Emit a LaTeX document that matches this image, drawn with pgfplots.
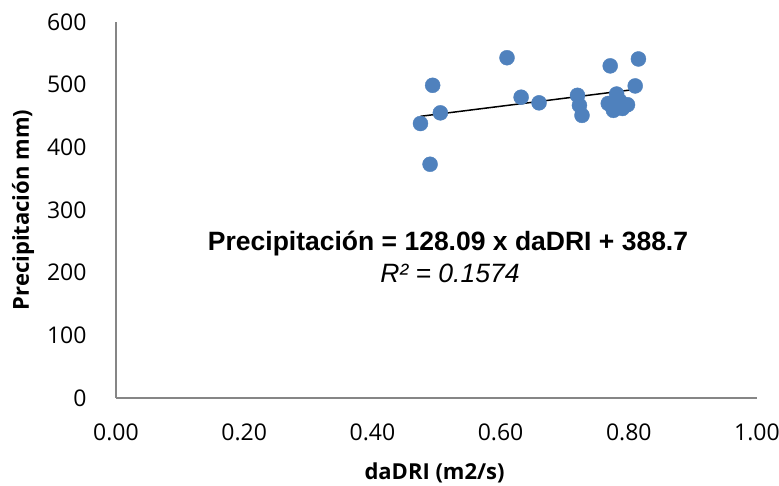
\documentclass[border=0pt]{standalone}
\usepackage{pgfplots}
\pgfplotsset{compat=1.18}
\usepackage{fontspec}
\setmainfont{Open Sans}
\newfontfamily\arialfont{Liberation Sans}
\definecolor{ptblue}{HTML}{4F81BD}
\definecolor{axgray}{HTML}{868686}
\begin{document}
\begin{tikzpicture}
\useasboundingbox (-116pt,-88pt) rectangle (663pt,398pt);
\begin{axis}[
  at={(0pt,0pt)}, anchor=south west,
  scale only axis, width=641pt, height=376pt,
  xmin=0, xmax=1, ymin=0, ymax=600,
  xtick={0,0.2,0.4,0.6,0.8,1}, ytick={0,100,200,300,400,500,600},
  axis lines=left,
  axis line style={-, draw=axgray, line width=1.3pt},
  major tick length=0pt,
  tick label style={font=\fontsize{23}{26}\selectfont, text=black},
  /pgf/number format/assume math mode=true,
  xticklabel style={/pgf/number format/.cd, fixed, fixed zerofill, precision=2, /tikz/.cd, yshift=-22pt},
  yticklabel style={/pgf/number format/.cd, fixed, /tikz/.cd, xshift=-26pt},
  xlabel={\bfseries daDRI (m2/s)},
  ylabel={\bfseries Precipitación mm)},
  label style={font=\fontsize{22}{25}\selectfont},
  xlabel style={at={(rel axis cs:0.497,0)}, anchor=center, yshift=-75pt},
  ylabel style={at={(rel axis cs:0,0.5)}, anchor=center, yshift=93pt},
  clip=false,
]
\addplot[only marks, mark=*, mark size=7.5pt, mark options={fill=ptblue, draw=ptblue}] coordinates {
(0.475,438) (0.490,373) (0.494,499) (0.506,455) (0.610,543) (0.632,480)
(0.660,471) (0.720,483) (0.723,467) (0.727,451) (0.771,530) (0.768,470)
(0.776,459) (0.781,485) (0.786,474) (0.790,462) (0.798,468) (0.810,498)
(0.815,541)
};
\addplot[black, line width=1.5pt] coordinates {(0.475,449.5) (0.815,493.1)};
\node[font=\arialfont\bfseries\fontsize{26.5}{30}\selectfont] at (axis cs:0.518,247) {Precipitación = 128.09 x daDRI + 388.7};
\node[font=\arialfont\itshape\fontsize{26.5}{30}\selectfont] at (axis cs:0.521,199) {R² = 0.1574};
\end{axis}
\end{tikzpicture}
\end{document}
